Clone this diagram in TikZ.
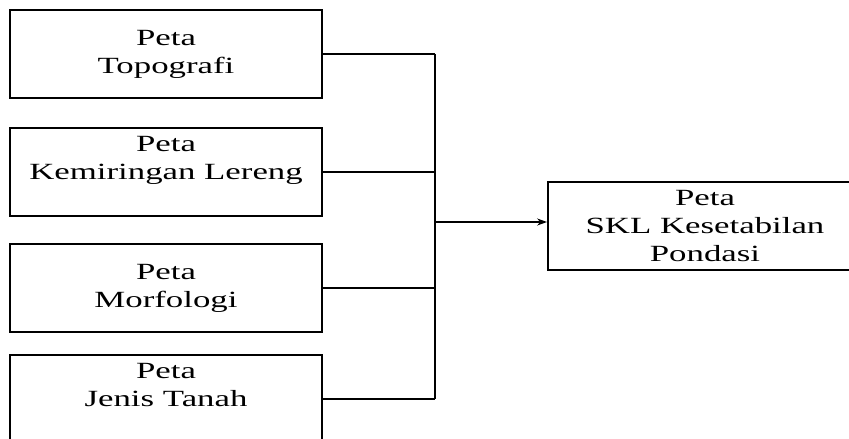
\documentclass[tikz,border=0pt]{standalone}
\usepackage{fontspec}
\setmainfont[FakeStretch=1.5]{Liberation Serif}
\usepackage{tikz}
\usetikzlibrary{arrows.meta}

\tikzset{
	peta/.style={draw,line width=1.4pt,minimum width=7.8cm,minimum height=2.2cm,
		align=center,inner sep=0pt,font=\fontsize{16.5}{20}\selectfont},
	garis/.style={line width=1.2pt}
}

\begin{document}
\begin{tikzpicture}[x=0.025cm,y=-0.025cm]
	\useasboundingbox (0,0) rectangle (849,439);
	\clip (0,0) rectangle (849,439);
	
	\node[peta] (topo) at (166,54) {Peta\\Topografi};
	\node[peta] (lereng) at (166,172) {Peta\\Kemiringan Lereng\\\mbox{}};
	\node[peta] (morfo) at (166,288) {Peta\\Morfologi};
	\node[peta] (tanah) at (166,399) {Peta\\Jenis Tanah\\\mbox{}};
	\node[peta,minimum width=7.85cm] (skl) at (705,226) {Peta\\SKL Kesetabilan\\Pondasi};
	
	\coordinate (bus) at (435,222);
	\foreach \n in {topo,lereng,morfo,tanah}{
		\draw[garis] (\n.east) -- (\n.east -| bus);
	}
	\draw[line width=1.9pt] (topo.east -| bus) -- (tanah.east -| bus);
	\draw[garis,-{Stealth[length=7pt,width=5pt]}] (bus) -- (bus -| skl.west);
\end{tikzpicture}
\end{document}
